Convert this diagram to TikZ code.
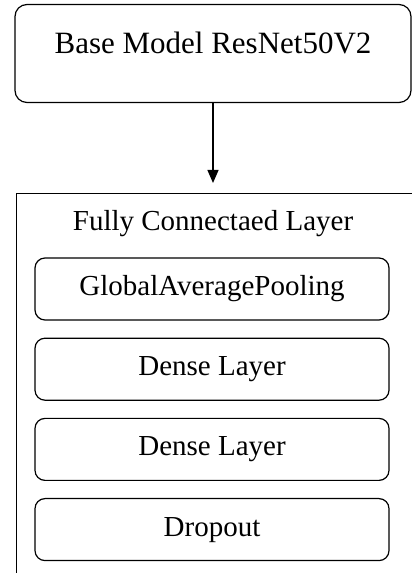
\documentclass[tikz,border=0pt]{standalone}
\usepackage{fontspec}
\setmainfont{Liberation Serif}
\usetikzlibrary{positioning,arrows.meta}
\begin{document}
\begin{tikzpicture}[>={Triangle[width=11pt,length=13pt]},line join=round,x=1pt,y=1pt,
	layer/.style={draw,line width=1.2pt,rounded corners=10pt,minimum width=354pt,minimum height=62pt,font=\fontsize{29}{34}\selectfont}]
	\useasboundingbox (0,0) rectangle (412,573);
	\clip (0,0) rectangle (412,573);
	\node[draw,line width=1.2pt,rounded corners=12pt,minimum width=396pt,minimum height=98pt,
		text height=20pt,text depth=20pt,font=\fontsize{31}{36}\selectfont] (base) at (213,519.5) {Base Model ResNet50V2};
	\node[draw,line width=1.4pt,minimum width=420pt,minimum height=400pt,anchor=north west] (frame) at (16,380) {};
	\node[font=\fontsize{29}{34}\selectfont] (fc) at (213,349) {Fully Connectaed Layer};
	\node[layer] (gap) at (212,284) {GlobalAveragePooling};
	\node[layer,below=17pt of gap] (dense1) {Dense Layer};
	\node[layer,below=17pt of dense1] (dense2) {Dense Layer};
	\node[layer,below=17pt of dense2] (drop) {Dropout};
	\draw[->,line width=1.2pt] (base.south) -- ([yshift=10pt]base.south |- frame.north);
\end{tikzpicture}
\end{document}
